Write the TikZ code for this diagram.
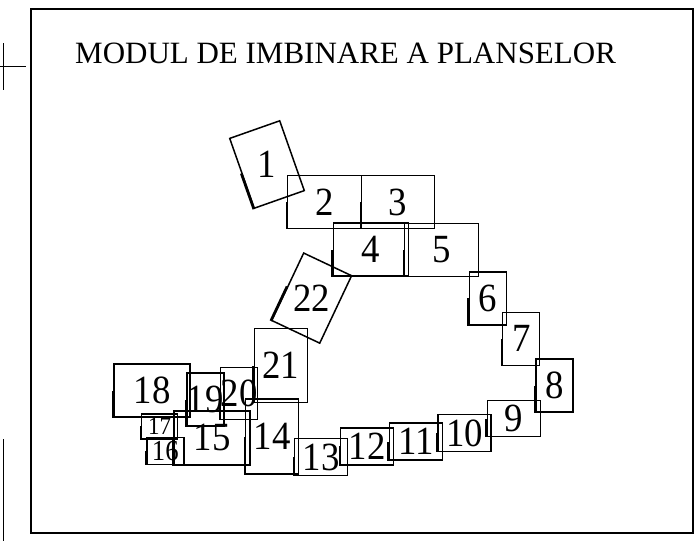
\documentclass[tikz,border=0pt]{standalone}
\usepackage{fontspec}
\usepackage{graphicx}
\setmainfont{Liberation Serif}
\newfontfamily\cifre[FakeStretch=0.92]{Liberation Serif}
\tikzset{
  plansa/.style={
    rectangle,
    draw=black, line width=1.5pt,
    inner sep=0pt,
    minimum width=53pt,
    minimum height=37pt,
    font=\cifre\fontsize{40}{40}\selectfont,
    text centered},
  plansaV/.style={plansa, minimum width=37pt, minimum height=53pt},
  plansamare/.style={plansa, minimum width=74pt, minimum height=53pt},
  plansamareV/.style={plansa, minimum width=53pt, minimum height=74pt},
  plansamica/.style={plansa, minimum width=37pt, minimum height=26pt,
    font=\cifre\fontsize{29}{29}\selectfont},
  margine/.style={draw, line width=2.6pt},
  chenar/.style={draw, line width=1.4pt},
  reper/.style={draw, line width=1pt},
  titlu/.style={inner sep=0pt, font=\fontsize{31}{31}\selectfont},
}
\begin{document}
\begin{tikzpicture}
[x=1pt, y=-1pt]
    \useasboundingbox (0,0) rectangle (698,541);

    % chenar si repere
    \draw[chenar] (31,9) rectangle (693,533);
    \draw[reper] (3,43) -- (3,90);
    \draw[reper] (0,66) -- (26,66);
    \draw[reper] (3,439) -- (3,541);

    \node [titlu, anchor=base west](titlu) at (75,63) {MODUL DE IMBINARE A PLANSELOR};

    % plansele
    \node [plansamareV, rotate=19.4](p1) at (267,164.5) {\rotatebox{-19.4}{1}};
    \node [plansamare](p2) at (324.7,202) {2};
    \node [plansamare, minimum width=72.6pt](p3) at (398,202.2) {3};
    \node [plansamare, minimum width=75pt](p4) at (370.8,249.5) {4};
    \node [plansamare](p5) at (441.7,250) {5};
    \node [plansaV](p6) at (488,298.3) {6};
    \node [plansaV](p7) at (521.2,338.8) {7};
    \node [plansaV](p8) at (554.5,385.5) {8};
    \node [plansa, minimum height=36pt](p9) at (513.8,418.7) {9};
    \node [plansa](p10) at (464.7,433) {10};
    \node [plansa](p11) at (416,441.7) {11};
    \node [plansa](p12) at (367.2,446.3) {12};
    \node [plansa](p13) at (321.2,457.2) {13};
    \node [plansamareV, minimum height=75pt](p14) at (272.2,436.5) {14};
    \node [plansamare, minimum width=76pt, minimum height=54pt](p15) at (212,437.8) {15};
    \node [plansamica, minimum height=27pt](p16) at (165.3,451.2) {16};
    \node [plansamica, minimum width=35.6pt, minimum height=25pt,
           font=\cifre\fontsize{25}{25}\selectfont](p17) at (159.5,426.3) {17};
    \node [plansamare, minimum width=76pt](p18) at (152,390.7) {18};
    \node [plansaV](p19) at (205.3,399.7) {19};
    \node [plansaV, minimum height=51.6pt](p20) at (239.2,393.5) {20};
    \node [plansamareV](p21) at (280.8,365.5) {21};
    \node [plansamareV, minimum height=74.6pt, rotate=-25.3](p22) at (311.7,298.1) {\rotatebox{25.3}{22}};

    % marginile ingrosate
    \draw[margine] (p1.west) -- (p1.south west);
    \draw[margine] (p2.west) -- (p2.south west);
    \draw[margine] (p3.west) -- (p3.south west);
    \draw[margine] (p4.west) -- (p4.south west);
    \draw[margine] (p5.west) -- (p5.south west);
    \draw[margine] (p6.west) -- (p6.south west);
    \draw[margine] (p7.west) -- (p7.south west);
    \draw[margine] (p8.west) -- (p8.south west);
    \draw[margine] (p9.west) -- (p9.south west);
    \draw[margine] (p10.west) -- (p10.south west);
    \draw[margine] (p11.west) -- (p11.south west);
    \draw[margine] (p12.west) -- (p12.south west);
    \draw[margine] (p13.west) -- (p13.south west);
    \draw[margine] (p14.west) -- (p14.south west);
    \draw[margine] (p15.west) -- (p15.south west);
    \draw[margine] (p16.west) -- (p16.south west);
    \draw[margine] (p17.west) -- (p17.south west);
    \draw[margine] (p18.west) -- (p18.south west);
    \draw[margine] (p19.west) -- (p19.south west);
    \draw[margine] (p20.west) -- (p20.south west);
    \draw[margine] (p21.west) -- (p21.south west);
    \draw[margine] (p22.west) -- (p22.south west);

\end{tikzpicture}
\end{document}
